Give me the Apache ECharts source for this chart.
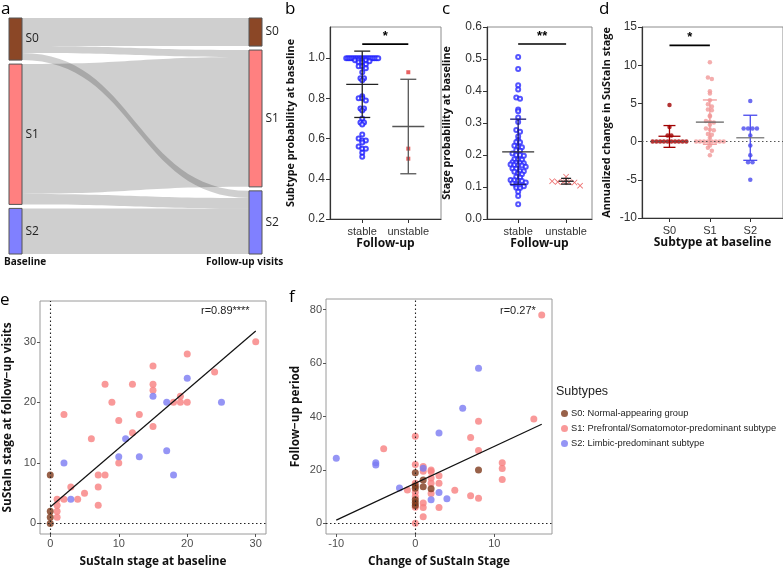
<!DOCTYPE html>
<html>
<head>
<meta charset="utf-8">
<script src="https://cdn.jsdelivr.net/npm/echarts@6.0.0/dist/echarts.min.js"></script>
<style>
  html, body { margin: 0; padding: 0; background: #fff; }
  #main { width: 783px; height: 569px; }
</style>
</head>
<body>
<div id="main"></div>
<script>
// ---- panel a: subtype at baseline -> follow-up ----
const subtypes = ['S0', 'S1', 'S2'];
const flowLinks = [ // from, to, subjects
  ['S0', 'S0', 8], ['S0', 'S1', 2], ['S0', 'S2', 2],
  ['S1', 'S1', 37], ['S1', 'S2', 3],
  ['S2', 'S2', 13]
];

// ---- panel b: subtype probability ----
const groups = ['stable', 'unstable'];
const probStable = [1, 1, 1, 1, 1, 1, 1, 1, 1, 1, 1, 1, 1, 1, 1, 1, 1, 1,
  0.99, 0.99, 0.99, 0.99, 0.985, 0.98, 0.98, 0.97, 0.96, 0.96, 0.95, 0.93,
  0.9, 0.9, 0.89, 0.81, 0.8, 0.8, 0.79, 0.75, 0.75, 0.74, 0.7, 0.68, 0.68,
  0.67, 0.62, 0.6, 0.59, 0.59, 0.58, 0.56, 0.55, 0.55, 0.53, 0.51];
const probUnstable = [0.93, 0.55, 0.5];
const probStats = [[0.87, 0.705, 1.035], [0.66, 0.425, 0.895]]; // mean, lower, upper
const probSig = [1, 2, 1.07];

// ---- panel c: stage probability ----
const stageStable = [0.506, 0.469, 0.418, 0.405, 0.38, 0.376, 0.342, 0.337, 0.317,
  0.303, 0.278, 0.273, 0.258, 0.246, 0.241, 0.24, 0.229, 0.226, 0.224, 0.215,
  0.213, 0.205, 0.2, 0.2, 0.198, 0.187, 0.186, 0.185, 0.177, 0.176, 0.175, 0.174,
  0.17, 0.169, 0.168, 0.167, 0.163, 0.158, 0.157, 0.15, 0.149, 0.148, 0.142, 0.14,
  0.132, 0.13, 0.122, 0.121, 0.12, 0.119, 0.114, 0.112, 0.104, 0.103, 0.102,
  0.098, 0.097, 0.085, 0.072, 0.046];
const stageUnstable = [0.132, 0.118, 0.116, 0.116, 0.115, 0.114, 0.104];
const stageStats = [[0.21, 0.108, 0.312], [0.118, 0.109, 0.127]];
const stageSig = [1, 2, 0.547];

// ---- panel d: annualized change ----
const changeS0 = [4.8, 1.9, 0.8, 0.8, 0, 0, 0, 0, 0, 0, 0, 0, 0, 0];
const changeS1 = [10.4, 8.4, 8.2, 6.6, 6.3, 5.4, 4.9, 4.6, 4.2, 4.1, 3.4, 3.3, 2.7,
  2.6, 2.5, 2.2, 1.7, 1.6, 1.5, 1.0, 0.9, 0.5, 0, 0, 0, 0, 0, 0, 0, 0, -0.5, -0.8,
  -1.2, -1.8];
const changeS2 = [5.3, 1.7, 1.7, 1.7, 1.7, 0.8, -0.5, -1.8, -2.7, -2.7, -5.0];
const changeStats = [[0.7, -0.75, 2.1], [2.55, -0.35, 5.45], [0.5, -2.45, 3.45]];
const changeSig = [1, 2, 12.6];

// ---- panel e: stage at baseline vs follow-up ----
const eS0 = [[0, 8], [0, 2], [0, 1], [0, 0]];
const eS1 = [[2, 18], [1, 4], [1, 3], [1, 2], [1, 1], [2, 4], [3, 6], [4, 4], [5, 5],
  [6, 14], [7, 8], [7, 6], [7, 3], [8, 8], [8, 23], [9, 20], [10, 17], [10, 10],
  [12, 15], [12, 23], [13, 18], [15, 26], [15, 23], [15, 22], [15, 16], [18, 20],
  [19, 21], [19, 20], [20, 28], [20, 20], [24, 25], [30, 30]];
const eS2 = [[2, 10], [3, 4], [10, 11], [11, 14], [13, 11], [15, 21], [17, 20],
  [17, 12], [18, 8], [20, 24], [25, 20]];
const fitE = [2.7, 0.97];      // intercept, slope
const fitRangeE = [0, 30];

// ---- panel f: change vs follow-up period ----
const fS0 = [[0, 18.9], [0, 14.1], [0, 13.1], [0, 8.8], [0, 7.7], [0, 6.7],
  [1, 16.2], [1, 13.7], [2, 12.9], [8, 20]];
const fS1 = [[16, 78], [8, 38.2], [15, 39.1], [0, 32.6], [7, 32.1], [-4, 27.9],
  [8, 27.3], [11, 22.7], [11, 20.5], [11, 16.4], [-1, 12.5], [0, 22], [1, 21.3],
  [1, 19.5], [2, 20], [2, 19.4], [2, 15], [3, 17.8], [3, 15], [2, 11.2], [5, 12.4],
  [0, 11.6], [7, 10.3], [8, 9.4], [1, 7.6], [1, 5.9], [3, 5.9], [1, 2.5], [0, 6],
  [0, 0], [0, 15], [0, 10], [2, 17]];
const fS2 = [[8, 58.1], [6, 43.1], [3, 33.8], [-10, 24.4], [-5, 22.7], [-5, 21.8],
  [-2, 13.2], [1, 20.6], [3, 11.5], [2, 8.8], [4, 9.2]];
const fitF = [15.0, 1.38];
const fitRangeF = [-10, 16];

const legendNames = ['S0: Normal-appearing group',
  'S1: Prefrontal/Somatomotor-predominant subtype',
  'S2: Limbic-predominant subtype'];

// colours
const subColors = ['#8b4726', '#ff8080', '#8080ff'];
const ptColors = ['#7e3a1c', '#f77f7f', '#7b7bf3'];
const dColors = ['#a00000', '#f19898', '#4848ee'];

const tickFont = { fontFamily: 'Liberation Sans', fontSize: 11, color: '#333' };
const titleFont = { fontFamily: 'Open Sans', fontWeight: 'bold', fontSize: 10.8, color: '#111' };

// spread points that share a pixel row, GraphPad style
function swarm(values, center, pxX, pxY, dia, maxHalf) {
  const bins = new Map();
  values.forEach(v => {
    const k = Math.round(v * pxY / dia);
    if (!bins.has(k)) bins.set(k, []);
    bins.get(k).push(v);
  });
  const out = [];
  bins.forEach(list => {
    const n = list.length;
    const step = n > 1 ? Math.min(dia, 2 * maxHalf / (n - 1)) : 0;
    list.forEach((v, i) => out.push([center + (i - (n - 1) / 2) * step / pxX, v]));
  });
  return out;
}

function errorBars(idx, stats, o) {
  return {
    type: 'custom', xAxisIndex: idx, yAxisIndex: idx, silent: true, z: 5,
    data: stats.map((s, i) => [i + 1, s[0], s[1], s[2]]),
    renderItem(params, api) {
      const i = params.dataIndex;
      const x = api.value(0);
      const m = api.coord([x, api.value(1)]);
      const lo = api.coord([x, api.value(2)]);
      const hi = api.coord([x, api.value(3)]);
      const bar = { stroke: o.barColor[i], lineWidth: 1.3 };
      const cw = o.capHalf[i], mw = o.meanHalf[i];
      return {
        type: 'group', children: [
          { type: 'line', shape: { x1: m[0], y1: lo[1], x2: m[0], y2: hi[1] }, style: bar },
          { type: 'line', shape: { x1: m[0] - cw, y1: lo[1], x2: m[0] + cw, y2: lo[1] }, style: bar },
          { type: 'line', shape: { x1: m[0] - cw, y1: hi[1], x2: m[0] + cw, y2: hi[1] }, style: bar },
          { type: 'line', shape: { x1: m[0] - mw, y1: m[1], x2: m[0] + mw, y2: m[1] },
            style: { stroke: o.meanColor[i], lineWidth: 1.3 } }
        ]
      };
    }
  };
}

function sigBar(idx, sig, label) {
  return {
    type: 'custom', xAxisIndex: idx, yAxisIndex: idx, silent: true, z: 6,
    data: [sig],
    renderItem(params, api) {
      const a = api.coord([api.value(0), api.value(2)]);
      const b = api.coord([api.value(1), api.value(2)]);
      return {
        type: 'group', children: [
          { type: 'line', shape: { x1: a[0], y1: a[1], x2: b[0], y2: b[1] },
            style: { stroke: '#000', lineWidth: 1.6 } },
          { type: 'text', x: (a[0] + b[0]) / 2, y: a[1] - 1,
            style: { text: label, align: 'center', verticalAlign: 'bottom',
              font: 'bold 13px Liberation Sans', fill: '#000' } }
        ]
      };
    }
  };
}

function catAxis(idx, min, max, labels) {
  const vals = labels.map((_, i) => i + 1);
  return {
    gridIndex: idx, type: 'value', min: min, max: max,
    splitLine: { show: false },
    axisLine: { show: true, onZero: false, lineStyle: { color: '#333', width: 1.2 } },
    axisTick: { show: true, length: 4, customValues: vals, lineStyle: { color: '#333' } },
    axisLabel: Object.assign({ customValues: vals, margin: 7,
      formatter: v => labels[Math.round(v) - 1] || '' }, tickFont),
    nameLocation: 'middle', nameTextStyle: Object.assign({}, titleFont, { fontSize: 12 })
  };
}

function valAxisGP(idx, min, max, ticks, digits, name, gap) {
  return {
    gridIndex: idx, type: 'value', min: min, max: max,
    splitLine: { show: false },
    axisLine: { show: true, onZero: false, lineStyle: { color: '#333', width: 1.2 } },
    axisTick: { show: true, length: 4, customValues: ticks, lineStyle: { color: '#333' } },
    axisLabel: Object.assign({ customValues: ticks, margin: 5,
      formatter: v => v.toFixed(digits) }, tickFont, { fontSize: 12 }),
    name: name, nameLocation: 'middle', nameGap: gap, nameTextStyle: titleFont
  };
}

function axisGG(idx, min, max, ticks, name, gap) {
  return {
    gridIndex: idx, type: 'value', min: min, max: max,
    splitLine: { show: false },
    axisLine: { show: false, onZero: false },
    axisTick: { show: true, length: 3, customValues: ticks, lineStyle: { color: '#555' } },
    axisLabel: { customValues: ticks, margin: 4, fontFamily: 'Liberation Sans',
      fontSize: 11, color: '#4d4d4d' },
    name: name, nameLocation: 'middle', nameGap: gap,
    nameTextStyle: { fontFamily: 'Open Sans', fontWeight: 'bold', fontSize: 11.8, color: '#111' }
  };
}

function zeroLines(which, color) {
  return {
    silent: true, symbol: 'none', label: { show: false },
    lineStyle: { color: color, type: [1.5, 2.5], width: 1.1 },
    emphasis: { disabled: true },
    data: which
  };
}

const chart = echarts.init(document.getElementById('main'));

const sankeyNodes = [];
subtypes.forEach((s, i) => sankeyNodes.push({ name: 'base-' + s, depth: 0, itemStyle: { color: subColors[i] } }));
subtypes.forEach((s, i) => sankeyNodes.push({ name: 'follow-' + s, depth: 1, itemStyle: { color: subColors[i] } }));

const gridBox = { show: true, borderColor: '#8c8c8c', borderWidth: 1, backgroundColor: 'transparent' };

chart.setOption({
  animation: false,
  backgroundColor: '#fff',
  grid: [
    Object.assign({ left: 330, top: 27, width: 111, height: 192 }, gridBox),
    Object.assign({ left: 487, top: 27, width: 105, height: 192 }, gridBox),
    Object.assign({ left: 642, top: 27, width: 143, height: 191 }, gridBox),
    { left: 40, top: 301, width: 226, height: 238, show: true, borderColor: '#9a9a9a', borderWidth: 1 },
    { left: 326, top: 299, width: 226, height: 240, show: true, borderColor: '#9a9a9a', borderWidth: 1 }
  ],
  xAxis: [
    Object.assign(catAxis(0, 0.3, 2.71, groups), { name: 'Follow-up', nameGap: 17 }),
    Object.assign(catAxis(1, 0.35, 2.54, groups), { name: 'Follow-up', nameGap: 17 }),
    Object.assign(catAxis(2, 0.32, 3.81, subtypes), { name: 'Subtype at baseline', nameGap: 18 }),
    axisGG(3, -1.5, 31.5, [0, 10, 20, 30], 'SuStaIn stage at baseline', 22),
    axisGG(4, -11.3, 17.3, [-10, 0, 10], 'Change of SuStaIn Stage', 22)
  ],
  yAxis: [
    valAxisGP(0, 0.2, 1.155, [0.2, 0.4, 0.6, 0.8, 1.0], 1, 'Subtype probability at baseline', 34),
    valAxisGP(1, 0, 0.6, [0, 0.1, 0.2, 0.3, 0.4, 0.5, 0.6], 1, 'Stage probability at baseline', 35),
    valAxisGP(2, -10, 15, [-10, -5, 0, 5, 10, 15], 0, 'Annualized change in SuStaIn stage', 30),
    axisGG(3, -1.75, 36.75, [0, 10, 20, 30], 'SuStaIn stage at follow\u2212up visits', 26),
    axisGG(4, -4, 84, [0, 20, 40, 60, 80], 'Follow\u2212up period', 24)
  ],
  legend: {
    data: legendNames, orient: 'vertical', left: 556, top: 404,
    icon: 'circle', itemWidth: 7, itemHeight: 7, itemGap: 6,
    textStyle: { fontFamily: 'Liberation Sans', fontSize: 9.3, color: '#222', padding: [0, 0, 0, -2] },
    selectedMode: false
  },
  graphic: [
    { type: 'text', left: 1, top: 1, style: { text: 'a', font: '17px Open Sans', fill: '#000' } },
    { type: 'text', left: 285, top: 1, style: { text: 'b', font: '17px Open Sans', fill: '#000' } },
    { type: 'text', left: 442, top: 1, style: { text: 'c', font: '17px Open Sans', fill: '#000' } },
    { type: 'text', left: 599, top: 1, style: { text: 'd', font: '17px Open Sans', fill: '#000' } },
    { type: 'text', left: 0, top: 292, style: { text: 'e', font: '17px Open Sans', fill: '#000' } },
    { type: 'text', left: 289, top: 289, style: { text: 'f', font: '17px Open Sans', fill: '#000' } },
    { type: 'text', left: 4, top: 257, style: { text: 'Baseline', font: 'bold 10px Open Sans', fill: '#111' } },
    { type: 'text', left: 206, top: 257, style: { text: 'Follow-up visits', font: 'bold 10px Open Sans', fill: '#111' } },
    { type: 'text', left: 201, top: 305, style: { text: 'r=0.89****', font: '11px Liberation Sans', fill: '#222' } },
    { type: 'text', left: 500, top: 305, style: { text: 'r=0.27*', font: '11px Liberation Sans', fill: '#222' } },
    { type: 'text', left: 556, top: 385, style: { text: 'Subtypes', font: '12.5px Liberation Sans', fill: '#222' } }
  ],
  series: [
    {
      type: 'sankey', left: 9, top: 18, width: 253, height: 236,
      nodeWidth: 13, nodeGap: 4, layoutIterations: 0, nodeAlign: 'justify',
      draggable: false, emphasis: { disabled: true },
      data: sankeyNodes,
      links: flowLinks.map(l => ({ source: 'base-' + l[0], target: 'follow-' + l[1], value: l[2] })),
      itemStyle: { borderColor: '#555', borderWidth: 1 },
      lineStyle: { color: '#000', opacity: 0.19, curveness: 0.5 },
      label: { show: true, position: 'right', distance: 3, fontFamily: 'Open Sans',
        fontSize: 12, color: '#222', formatter: p => p.name.split('-')[1] }
    },
    // b
    {
      type: 'scatter', xAxisIndex: 0, yAxisIndex: 0, symbol: 'emptyCircle', symbolSize: 4,
      itemStyle: { color: '#1f1fff', borderWidth: 1 },
      data: swarm(probStable, 1, 46, 200, 3.6, 16)
    },
    {
      type: 'scatter', xAxisIndex: 0, yAxisIndex: 0, symbol: 'rect', symbolSize: 4,
      itemStyle: { color: '#e33a3a' },
      data: swarm(probUnstable, 2, 46, 200, 4, 10)
    },
    errorBars(0, probStats, { barColor: ['#222', '#555'], meanColor: ['#222', '#555'],
      capHalf: [8, 8], meanHalf: [16, 16] }),
    sigBar(0, probSig, '*'),
    // c
    {
      type: 'scatter', xAxisIndex: 1, yAxisIndex: 1, symbol: 'emptyCircle', symbolSize: 4,
      itemStyle: { color: '#2a2aff', borderWidth: 1 },
      data: swarm(stageStable, 1, 48, 320, 3.8, 16)
    },
    {
      type: 'scatter', xAxisIndex: 1, yAxisIndex: 1,
      symbol: 'path://M1,0L5,4L9,0L10,1L6,5L10,9L9,10L5,6L1,10L0,9L4,5L0,1Z', symbolSize: 6,
      itemStyle: { color: '#e84848' },
      data: swarm(stageUnstable, 2, 48, 320, 6, 14)
    },
    errorBars(1, stageStats, { barColor: ['#1c1c70', '#222'], meanColor: ['#333', '#222'],
      capHalf: [8, 5], meanHalf: [16, 7.5] }),
    sigBar(1, stageSig, '**'),
    // d
    {
      type: 'scatter', xAxisIndex: 2, yAxisIndex: 2, symbolSize: 4.5, z: 3,
      itemStyle: { color: dColors[0] }, data: swarm(changeS0, 1, 41, 7.68, 3.8, 19),
      markLine: zeroLines([{ yAxis: 0 }], '#555')
    },
    {
      type: 'scatter', xAxisIndex: 2, yAxisIndex: 2, symbolSize: 4.5, z: 3,
      itemStyle: { color: dColors[1] }, data: swarm(changeS1, 2, 41, 7.68, 4, 15)
    },
    {
      type: 'scatter', xAxisIndex: 2, yAxisIndex: 2, symbolSize: 4.5, z: 3,
      itemStyle: { color: dColors[2] }, data: swarm(changeS2, 3, 41, 7.68, 4.5, 15)
    },
    errorBars(2, changeStats, { barColor: dColors, meanColor: ['#a00000', '#666', '#777'],
      capHalf: [6, 7, 7], meanHalf: [11, 14, 14] }),
    sigBar(2, changeSig, '*'),
    // e
    {
      type: 'line', xAxisIndex: 3, yAxisIndex: 3, symbol: 'none', silent: true, z: 4,
      lineStyle: { color: '#111', width: 1.2 },
      data: fitRangeE.map(x => [x, fitE[0] + fitE[1] * x]),
      markLine: zeroLines([{ xAxis: 0 }, { yAxis: 0 }], '#222')
    },
    { name: legendNames[0], type: 'scatter', xAxisIndex: 3, yAxisIndex: 3, symbolSize: 7, itemStyle: { color: ptColors[0] }, data: eS0, z: 3 },
    { name: legendNames[1], type: 'scatter', xAxisIndex: 3, yAxisIndex: 3, symbolSize: 7, itemStyle: { color: ptColors[1] }, data: eS1, z: 3 },
    { name: legendNames[2], type: 'scatter', xAxisIndex: 3, yAxisIndex: 3, symbolSize: 7, itemStyle: { color: ptColors[2] }, data: eS2, z: 3 },
    // f
    {
      type: 'line', xAxisIndex: 4, yAxisIndex: 4, symbol: 'none', silent: true, z: 4,
      lineStyle: { color: '#111', width: 1.2 },
      data: fitRangeF.map(x => [x, fitF[0] + fitF[1] * x]),
      markLine: zeroLines([{ xAxis: 0 }, { yAxis: 0 }], '#222')
    },
    { name: legendNames[1], type: 'scatter', xAxisIndex: 4, yAxisIndex: 4, symbolSize: 7, itemStyle: { color: ptColors[1] }, data: fS1, z: 3 },
    { name: legendNames[2], type: 'scatter', xAxisIndex: 4, yAxisIndex: 4, symbolSize: 7, itemStyle: { color: ptColors[2] }, data: fS2, z: 3 },
    { name: legendNames[0], type: 'scatter', xAxisIndex: 4, yAxisIndex: 4, symbolSize: 7, itemStyle: { color: ptColors[0] }, data: fS0, z: 3 }
  ]
});
</script>
</body>
</html>
